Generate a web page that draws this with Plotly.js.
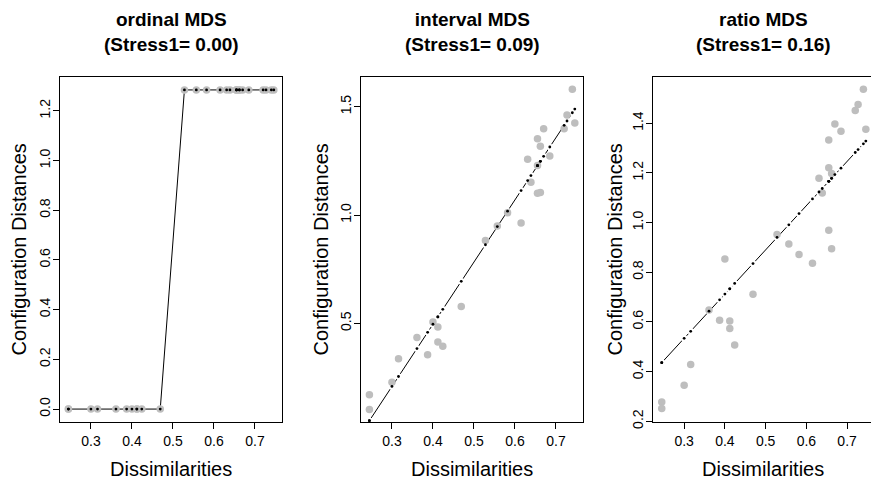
<!DOCTYPE html>
<html>
<head>
<meta charset="utf-8">
<script src="https://cdn.plot.ly/plotly-3.0.1.min.js"></script>
<style>html,body{margin:0;padding:0;background:#fff;}#chart{width:871px;height:482px;}</style>
</head>
<body>
<div id="chart"></div>
<script>
// Dissimilarities (shared x values, sorted)
const dissim = [0.245,0.245,0.300,0.316,0.361,0.387,0.400,0.412,0.412,0.424,0.469,0.528,0.557,0.582,0.615,0.631,0.639,0.655,0.655,0.655,0.662,0.662,0.670,0.685,0.720,0.727,0.740,0.746];

// Ordinal MDS: configuration distances and fitted (disparities)
const ordinalDist = [0,0,0,0,0,0,0,0,0,0,0,1.284,1.284,1.284,1.284,1.284,1.284,1.284,1.284,1.284,1.284,1.284,1.284,1.284,1.284,1.284,1.284,1.284];
const ordinalFit  = [0,0,0,0,0,0,0,0,0,0,0,1.284,1.284,1.284,1.284,1.284,1.284,1.284,1.284,1.284,1.284,1.284,1.284,1.284,1.284,1.284,1.284,1.284];

// Interval MDS
const intervalDist = [0.171,0.103,0.229,0.337,0.435,0.355,0.506,0.483,0.414,0.394,0.578,0.882,0.949,1.011,0.963,1.258,1.151,1.352,1.229,1.100,1.318,1.104,1.398,1.272,1.398,1.462,1.580,1.425];
const intervalFit  = [0.051,0.051,0.209,0.255,0.384,0.459,0.496,0.530,0.530,0.565,0.694,0.863,0.947,1.018,1.113,1.159,1.182,1.228,1.228,1.228,1.248,1.248,1.271,1.314,1.414,1.434,1.472,1.489];

// Ratio MDS
const ratioDist = [0.278,0.251,0.345,0.429,0.648,0.607,0.853,0.604,0.573,0.507,0.711,0.952,0.914,0.871,0.836,1.178,1.119,1.332,1.221,0.969,1.197,0.895,1.397,1.368,1.451,1.475,1.537,1.376];
const ratioFit  = [0.436,0.436,0.534,0.562,0.643,0.689,0.712,0.733,0.733,0.755,0.835,0.940,0.991,1.036,1.095,1.123,1.137,1.166,1.166,1.166,1.178,1.178,1.193,1.219,1.282,1.294,1.317,1.328];

const panelTitles = ["ordinal MDS<br>(Stress1= 0.00)", "interval MDS<br>(Stress1= 0.09)", "ratio MDS<br>(Stress1= 0.16)"];
const xTitle = "Dissimilarities";
const yTitle = "Configuration Distances";

const W = 871, H = 482;
const FONT = "Liberation Sans, Arial, Helvetica, sans-serif";

const panels = [
  {dist: ordinalDist, fit: ordinalFit, xd: [60/W, 282/W], xr: [0.2245, 0.766], yr: [-0.052, 1.336], ytv: [0,0.2,0.4,0.6,0.8,1.0,1.2], mirror: true, cx: 171, ylx: 18},
  {dist: intervalDist, fit: intervalFit, xd: [361/W, 583/W], xr: [0.2245, 0.766], yr: [0.045, 1.637], ytv: [0.5,1.0,1.5], mirror: true, cx: 472, ylx: 320},
  {dist: ratioDist, fit: ratioFit, xd: [653/W, 1], xr: [0.2235, 0.7587], yr: [0.197, 1.586], ytv: [0.2,0.4,0.6,0.8,1.0,1.2,1.4], mirror: false, cx: 763, ylx: 614}
];

const traces = [];
const layout = {
  width: W, height: H,
  margin: {l:0, r:0, t:0, b:0},
  paper_bgcolor: "#fff", plot_bgcolor: "#fff",
  showlegend: false,
  font: {family: FONT, color: "#000"},
  annotations: []
};

panels.forEach((p, i) => {
  const n = i === 0 ? "" : String(i+1);
  const xa = "x" + n, ya = "y" + n;
  // fitted line (R type "b": line with gaps around the points)
  traces.push({x: dissim, y: p.fit, xaxis: xa, yaxis: ya, type: "scatter", mode: "lines",
    line: {color: "#000", width: 1}, hoverinfo: "skip", cliponaxis: false});
  traces.push({x: dissim, y: p.fit, xaxis: xa, yaxis: ya, type: "scatter", mode: "markers",
    marker: {color: "#fff", size: 6.5}, hoverinfo: "skip", cliponaxis: true});
  // configuration distances (grey points)
  traces.push({x: dissim, y: p.dist, xaxis: xa, yaxis: ya, type: "scatter", mode: "markers",
    marker: {color: "#BEBEBE", size: 7.5}, cliponaxis: false});
  // fitted points (small black dots)
  traces.push({x: dissim, y: p.fit, xaxis: xa, yaxis: ya, type: "scatter", mode: "markers",
    marker: {color: "#000", size: 2.8}, cliponaxis: false});

  layout["xaxis" + n] = {
    domain: p.xd, range: p.xr, anchor: ya,
    showgrid: false, zeroline: false, showline: true, mirror: true, linecolor: "#000", linewidth: 1,
    ticks: "outside", ticklen: 6, tickcolor: "#000", tickwidth: 1,
    tickvals: [0.3,0.4,0.5,0.6,0.7], ticktext: ["0.3","0.4","0.5","0.6","0.7"],
    tickfont: {size: 14, family: FONT, color: "#000"}, fixedrange: true
  };
  layout["yaxis" + n] = {
    domain: [60/H, 405/H], range: p.yr, anchor: xa,
    showgrid: false, zeroline: false, showline: true, mirror: p.mirror, linecolor: "#000", linewidth: 1,
    ticks: "outside", ticklen: 6, tickcolor: "#000", tickwidth: 1,
    tickvals: p.ytv, ticktext: p.ytv.map(v => v.toFixed(1)), tickangle: -90, ticklabelstandoff: -3,
    tickfont: {size: 14, family: FONT, color: "#000"}, fixedrange: true
  };

  layout.annotations.push({text: panelTitles[i], xref: "paper", yref: "paper", x: p.cx/W, y: 1 - 32/H,
    xanchor: "center", yanchor: "middle", showarrow: false, font: {size: 19, family: FONT, color: "#000", weight: "bold"}});
  layout.annotations.push({text: xTitle, xref: "paper", yref: "paper", x: p.cx/W, y: 1 - 469/H,
    xanchor: "center", yanchor: "middle", showarrow: false, font: {size: 20, family: FONT, color: "#000"}});
  layout.annotations.push({text: yTitle, xref: "paper", yref: "paper", x: p.ylx/W, y: 1 - 249.5/H,
    xanchor: "center", yanchor: "middle", textangle: -90, showarrow: false, font: {size: 20, family: FONT, color: "#000"}});
});

Plotly.newPlot("chart", traces, layout, {staticPlot: true, displayModeBar: false});
</script>
</body>
</html>
